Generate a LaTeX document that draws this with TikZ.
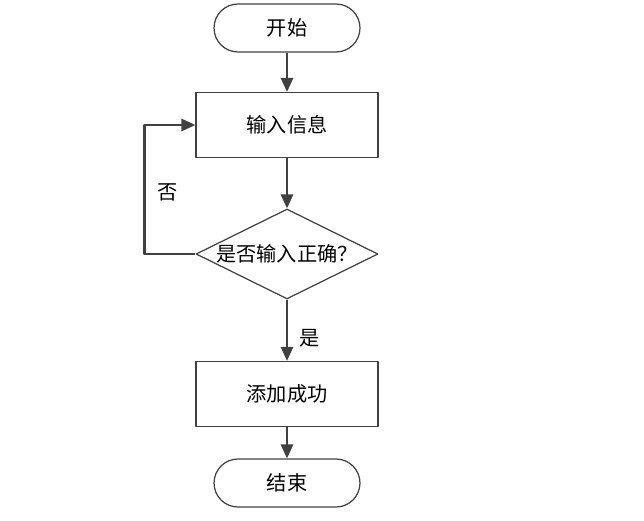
\documentclass[tikz,border=0pt]{standalone}
\usepackage{fontspec}
\newfontfamily\cjk{Noto Sans CJK SC}
\usetikzlibrary{shapes.geometric,arrows.meta}
\definecolor{linegray}{HTML}{404040}
\begin{document}
\begin{tikzpicture}[x=0.02cm,y=-0.02cm,>={Triangle[length=8pt,width=7pt]},line join=round,font=\cjk\fontsize{11.5}{13}\selectfont,
	term/.style={draw=linegray,line width=0.7pt,rounded corners=0.48cm,minimum width=2.92cm,minimum height=0.96cm},
	proc/.style={draw=linegray,line width=0.7pt,minimum width=3.64cm,minimum height=1.3cm},
	test/.style={draw=linegray,line width=0.7pt,diamond,aspect=2.02,inner sep=0pt,minimum width=3.64cm,minimum height=1.8cm},
	flow/.style={->,draw=linegray,line width=1.3pt}]
	\useasboundingbox (0,0) rectangle (644,520);
	\node[term] (start) at (287,28) {开始};
	\node[proc] (input) at (287,125) {输入信息};
	\node[test] (check) at (287,254) {是否输入正确？};
	\node[proc] (done) at (287,394) {添加成功};
	\node[term] (stop) at (287,483) {结束};
	\draw[flow] (start) -- (input);
	\draw[flow] (input) -- (check);
	\draw[flow] (check.west) -- ++(-51,0) |- (input.west);
	\node (no) at (168,192) {否};
	\draw[flow] (check) -- (done);
	\node (yes) at (310,338) {是};
	\draw[flow] (done) -- (stop);
\end{tikzpicture}
\end{document}
